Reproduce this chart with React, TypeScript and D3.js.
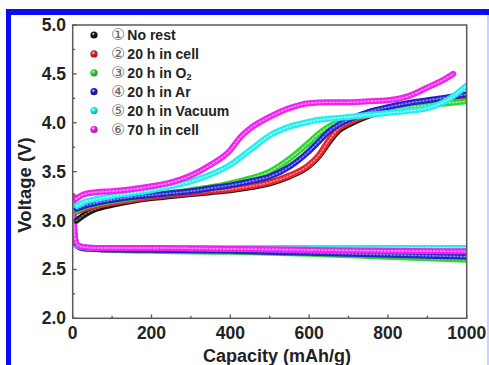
import React, { useEffect } from 'react';
import * as d3 from 'd3';

// capacity grids (mAh/g)
const chargeCap = [10, 30, 60, 100, 150, 200, 250, 300, 350, 400, 450, 500, 550, 600, 625, 650, 675, 700, 750, 800, 850, 900, 950, 1000];
const chargeCapLong = [8, 30, 60, 100, 150, 200, 250, 300, 350, 400, 425, 450, 500, 550, 600, 650, 700, 750, 800, 850, 900, 950, 966];
const dischargeCap = [1, 3, 6, 12, 25, 60, 200, 400, 600, 800, 1000];

// voltages (V)
const noRestCharge = [3.0, 3.06, 3.12, 3.16, 3.2, 3.23, 3.25, 3.27, 3.29, 3.31, 3.34, 3.38, 3.45, 3.56, 3.66, 3.8, 3.92, 3.98, 4.07, 4.13, 4.17, 4.2, 4.23, 4.27];
const cellCharge = [3.09, 3.12, 3.15, 3.18, 3.21, 3.24, 3.26, 3.28, 3.3, 3.32, 3.35, 3.39, 3.46, 3.57, 3.67, 3.82, 3.94, 4.0, 4.08, 4.14, 4.18, 4.21, 4.24, 4.28];
const o2Charge = [3.1, 3.14, 3.17, 3.2, 3.23, 3.26, 3.28, 3.31, 3.34, 3.38, 3.43, 3.5, 3.63, 3.8, 3.89, 3.96, 4.01, 4.04, 4.09, 4.13, 4.16, 4.18, 4.2, 4.22];
const arCharge = [3.12, 3.15, 3.18, 3.21, 3.24, 3.26, 3.28, 3.3, 3.33, 3.36, 3.4, 3.45, 3.55, 3.71, 3.81, 3.91, 3.98, 4.03, 4.11, 4.16, 4.2, 4.23, 4.26, 4.29];
const vacuumCharge = [3.15, 3.19, 3.22, 3.25, 3.28, 3.31, 3.35, 3.4, 3.47, 3.57, 3.72, 3.87, 3.96, 4.01, 4.03, 4.04, 4.05, 4.06, 4.08, 4.1, 4.12, 4.15, 4.23, 4.38];
const cell70Charge = [3.22, 3.27, 3.29, 3.3, 3.32, 3.35, 3.39, 3.46, 3.57, 3.72, 3.85, 3.94, 4.06, 4.15, 4.2, 4.21, 4.21, 4.22, 4.23, 4.27, 4.36, 4.46, 4.5];

const noRestDischarge = [3.02, 2.9, 2.79, 2.74, 2.72, 2.71, 2.7, 2.69, 2.68, 2.66, 2.65];
const cellDischarge = [3.1, 2.93, 2.8, 2.74, 2.72, 2.71, 2.7, 2.69, 2.68, 2.67, 2.66];
const o2Discharge = [3.12, 2.94, 2.8, 2.74, 2.72, 2.71, 2.69, 2.68, 2.66, 2.63, 2.6];
const arDischarge = [3.14, 2.95, 2.8, 2.74, 2.72, 2.71, 2.7, 2.69, 2.67, 2.65, 2.63];
const vacuumDischarge = [3.18, 2.97, 2.81, 2.74, 2.73, 2.72, 2.72, 2.72, 2.72, 2.72, 2.72];
const cell70Discharge = [3.25, 3.0, 2.82, 2.75, 2.73, 2.72, 2.72, 2.71, 2.7, 2.69, 2.685];

const labels = ['No rest', '20 h in cell', '20 h in O', '20 h in Ar', '20 h in Vacuum', '70 h in cell'];
const circled = ['①', '②', '③', '④', '⑤', '⑥'];
const colors = ['#151515', '#e8242a', '#2fd42f', '#2323c8', '#22eeee', '#f022f0'];
const lightColors = ['#8a8a8a', '#ff9a9a', '#a8f7a8', '#9a9aff', '#b8ffff', '#ffa8ff'];

const series = [
  { charge: [chargeCap, noRestCharge], discharge: noRestDischarge },
  { charge: [chargeCap, cellCharge], discharge: cellDischarge },
  { charge: [chargeCap, o2Charge], discharge: o2Discharge },
  { charge: [chargeCap, arCharge], discharge: arDischarge },
  { charge: [chargeCap, vacuumCharge], discharge: vacuumDischarge },
  { charge: [chargeCapLong, cell70Charge], discharge: cell70Discharge },
];

const xTicks = [0, 200, 400, 600, 800, 1000];
const yTicks = [2.0, 2.5, 3.0, 3.5, 4.0, 4.5, 5.0];

const W = 489, H = 365;
const left = 72.7, right = 466.7, top = 25, bottom = 318.3;
const font = '"Liberation Sans", Arial, sans-serif';

export default function App() {
  useEffect(() => { document.body.style.margin = '0'; }, []);

  const x = d3.scaleLinear().domain([0, 1000]).range([left, right]);
  const y = d3.scaleLinear().domain([2, 5]).range([bottom, top]);
  const line = d3.line<[number, number]>().x(d => x(d[0])).y(d => y(d[1])).curve(d3.curveMonotoneX);

  const xMinor = d3.range(100, 1000, 200);
  const yMinor = d3.range(2.25, 5, 0.5);

  const paths: { d: string; i: number }[] = [];
  series.forEach((s, i) => {
    const dis = dischargeCap.map((c, k) => [c, s.discharge[k]] as [number, number]);
    paths.push({ d: line(dis) || '', i });
  });
  series.forEach((s, i) => {
    const [caps, vs] = s.charge as [number[], number[]];
    const ch = caps.map((c, k) => [c, vs[k]] as [number, number]);
    paths.push({ d: line(ch) || '', i });
  });

  return (
    <svg width={W} height={H} style={{ position: 'absolute', left: 0, top: 0, background: '#fff' }}>
      <defs>
        {colors.map((c, i) => (
          <radialGradient key={i} id={`ball${i}`} cx="40%" cy="35%" r="65%">
            <stop offset="0%" stopColor="#fff" />
            <stop offset="35%" stopColor={c} />
            <stop offset="100%" stopColor={d3.color(c)!.darker(1.2).toString()} />
          </radialGradient>
        ))}
        <clipPath id="plot"><rect x={left} y={top} width={right - left} height={bottom - top} /></clipPath>
      </defs>

      {/* frame */}
      <rect x={6} y={9} width={483} height={6} fill="#0b0bf5" />
      <rect x={6} y={9} width={5} height={356} fill="#0b0bf5" />
      <rect x={487} y={15} width={2} height={350} fill="#cfcfff" />

      {/* curves */}
      <g clipPath="url(#plot)" fill="none" strokeLinecap="round" strokeLinejoin="round">
        {paths.map((p, k) => (
          <g key={k}>
            <path d={p.d} stroke={colors[p.i]} strokeWidth={6} />
            <path d={p.d} stroke={lightColors[p.i]} strokeWidth={1.7} strokeDasharray="1.2 2.3" opacity={0.8} />
          </g>
        ))}
      </g>

      {/* axes box */}
      <rect x={left} y={top} width={right - left} height={bottom - top} fill="none" stroke="#5a5a5a" strokeWidth={1.5} />

      {xTicks.map(t => (
        <g key={t}>
          <line x1={x(t)} x2={x(t)} y1={bottom} y2={bottom - 4} stroke="#5a5a5a" strokeWidth={1.3} />
          <text x={x(t)} y={338.5} textAnchor="middle" fontFamily={font} fontWeight="bold" fontSize={17.5} fill="#222">{t}</text>
        </g>
      ))}
      {xMinor.map(t => (
        <line key={t} x1={x(t)} x2={x(t)} y1={bottom} y2={bottom - 2.5} stroke="#5a5a5a" strokeWidth={1.3} />
      ))}
      {yTicks.map(t => (
        <g key={t}>
          <line x1={left} x2={left + 4} y1={y(t)} y2={y(t)} stroke="#5a5a5a" strokeWidth={1.3} />
          <text x={66} y={y(t) + 6} textAnchor="end" fontFamily={font} fontWeight="bold" fontSize={17.5} fill="#222">{t.toFixed(1)}</text>
        </g>
      ))}
      {yMinor.map(t => (
        <line key={t} x1={left} x2={left + 2.5} y1={y(t)} y2={y(t)} stroke="#5a5a5a" strokeWidth={1.3} />
      ))}

      <text x={277} y={361.5} textAnchor="middle" fontFamily={font} fontWeight="bold" fontSize={18} fill="#222">Capacity (mAh/g)</text>
      <text transform="translate(31,185) rotate(-90)" textAnchor="middle" fontFamily={font} fontWeight="bold" fontSize={18.5} fill="#222">Voltage (V)</text>

      {/* legend */}
      {labels.map((l, i) => {
        const ly = 35 + i * 18.9;
        return (
          <g key={i}>
            <circle cx={94} cy={ly} r={3.6} fill={`url(#ball${i})`} />
            <text x={111} y={ly + 5} fontFamily={font} fontWeight="bold" fontSize={14} fill="#222">
              <tspan fontFamily='"DejaVu Sans", "Noto Sans CJK SC", sans-serif' fontWeight="normal" fontSize={16} fill="#666">{circled[i]}</tspan>
              <tspan dx={2}>{l}</tspan>
              {i === 2 && <tspan fontSize={9} dy={2}>2</tspan>}
            </text>
          </g>
        );
      })}
    </svg>
  );
}
